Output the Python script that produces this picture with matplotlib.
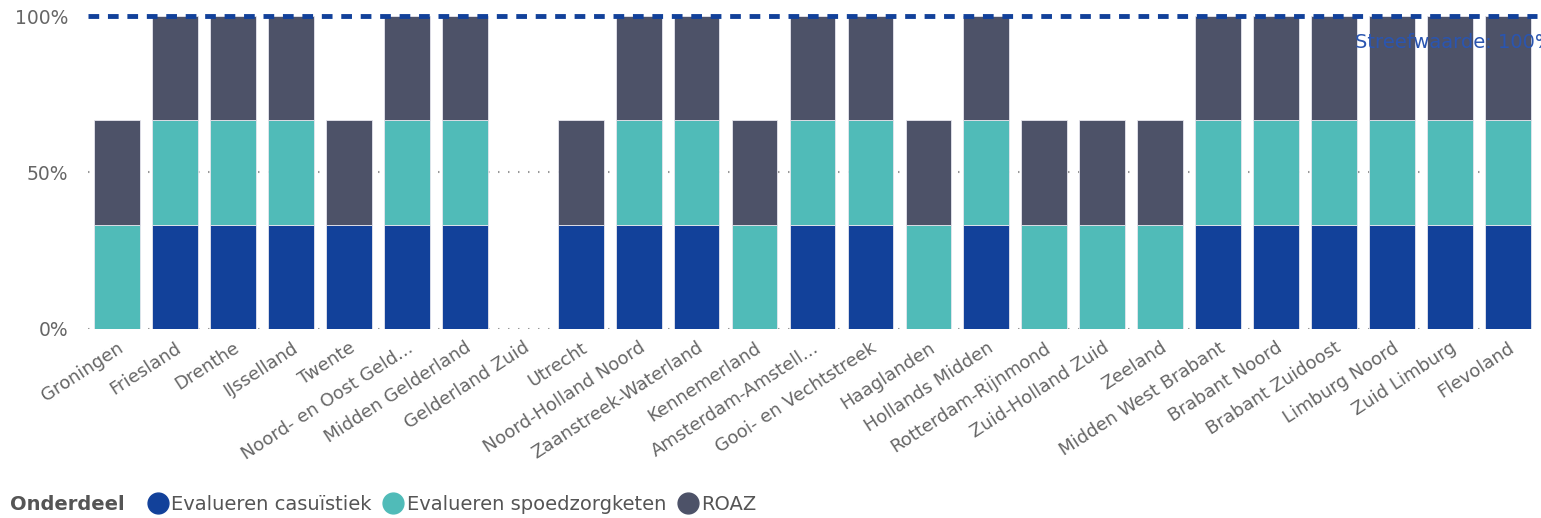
import matplotlib.pyplot as plt
import numpy as np
from matplotlib.lines import Line2D

# Data
regios = ["Groningen", "Friesland", "Drenthe", "IJsselland", "Twente",
          "Noord- en Oost Geld...", "Midden Gelderland", "Gelderland Zuid",
          "Utrecht", "Noord-Holland Noord", "Zaanstreek-Waterland",
          "Kennemerland", "Amsterdam-Amstell...", "Gooi- en Vechtstreek",
          "Haaglanden", "Hollands Midden", "Rotterdam-Rijnmond",
          "Zuid-Holland Zuid", "Zeeland", "Midden West Brabant",
          "Brabant Noord", "Brabant Zuidoost", "Limburg Noord",
          "Zuid Limburg", "Flevoland"]
d = 100 / 3
casuistiek = [0, d, d, d, d, d, d, 0, d, d, d, 0, d, d, 0, d, 0, 0, 0, d, d, d, d, d, d]
spoedzorgketen = [d, d, d, d, 0, d, d, 0, 0, d, d, d, d, d, d, d, d, d, d, d, d, d, d, d, d]
roaz = [d, d, d, d, d, d, d, 0, d, d, d, d, d, d, d, d, d, d, d, d, d, d, d, d, d]
streefwaarde = 100

series = ["Evalueren casuïstiek", "Evalueren spoedzorgketen", "ROAZ"]
colors = ["#12419A", "#50BBB8", "#4D5268"]

plt.rcParams['font.family'] = ['DejaVu Sans']

fig = plt.figure(figsize=(15.41, 5.18), dpi=100)
ax = fig.add_axes([0.0571, 0.365, 0.9403, 0.604])

x = np.arange(len(regios))
bottom = np.zeros(len(regios))
for vals, col in zip([casuistiek, spoedzorgketen, roaz], colors):
    vals = np.array(vals)
    ax.bar(x, vals, bottom=bottom, width=0.79, color=col,
           edgecolor='#e6e6ee', linewidth=0.6, zorder=3)
    bottom += vals

# gridlines (dotted)
for yv in [0, 50]:
    ax.axhline(yv, color='#999999', linestyle=(0, (0.7, 4.1)), linewidth=1.5, zorder=1)

# target line
ax.axhline(streefwaarde, color='#12419A', linestyle=(0, (2.2, 1.8)), linewidth=3.5,
           zorder=4, clip_on=False)
fig.text(1355 / 1541, 1 - 42 / 518, "Streefwaarde: 100%", color='#2a55b0',
         fontsize=14, va='center', ha='left', zorder=10)

ax.set_xlim(-0.5, len(regios) - 0.5)
ax.set_ylim(0, 100)
ax.set_yticks([0, 50, 100])
ax.set_yticklabels(["0%", "50%", "100%"], color='#666666', fontsize=13.5)
ax.set_xticks(x)
ax.set_xticklabels(regios, rotation=33, ha='right', rotation_mode='anchor',
                   color='#666666', fontsize=13)
ax.tick_params(axis='y', length=0, pad=14)
ax.tick_params(axis='x', length=0, pad=7)
for s in ax.spines.values():
    s.set_visible(False)

# legend
fig.text(10 / 1541, 1 - 504 / 518, "Onderdeel", fontsize=14, fontweight='bold',
         color='#555555', va='center', ha='left')
handles = [Line2D([], [], marker='o', linestyle='', markersize=15, color=c) for c in colors]
fig.legend(handles, series, loc='center left', bbox_to_anchor=(146 / 1541, 1 - 504 / 518),
           ncol=3, frameon=False, fontsize=14, handletextpad=0.1, columnspacing=0.5,
           handlelength=1.2, borderaxespad=0, borderpad=0, labelcolor='#555555')

fig.savefig("out.png", dpi=100)
